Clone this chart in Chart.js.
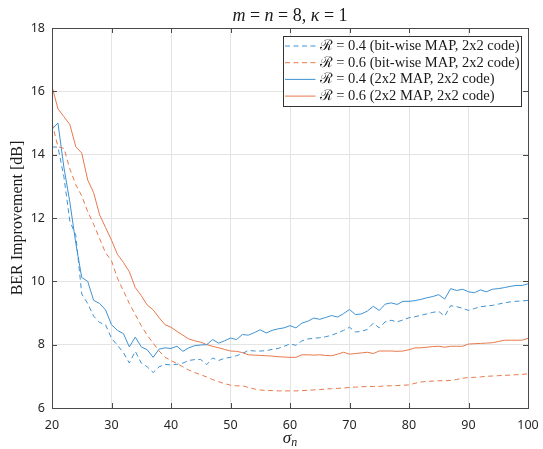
<!DOCTYPE html>
<html>
<head>
<meta charset="utf-8">
<title>BER improvement vs sigma_n</title>
<script src="https://cdn.jsdelivr.net/npm/chart.js@4.4.0/dist/chart.umd.min.js"></script>
<style>
  html, body { margin: 0; padding: 0; background: #fff; }
  #wrap { width: 543px; height: 449px; }
</style>
</head>
<body>
<div id="wrap"><canvas id="berChart" width="543" height="449"></canvas></div>
<script>
// noise level sigma_n (x axis)
const sigma = [20, 21, 22, 23, 24, 25, 26, 27, 28, 29, 30, 31, 32, 33, 34, 35, 36, 37, 38, 39,
  40, 41, 42, 43, 44, 45, 46, 47, 48, 49, 50, 51, 52, 53, 54, 55, 56, 57, 58, 59,
  60, 61, 62, 63, 64, 65, 66, 67, 68, 69, 70, 71, 72, 73, 74, 75, 76, 77, 78, 79,
  80, 81, 82, 83, 84, 85, 86, 87, 88, 89, 90, 91, 92, 93, 94, 95, 96, 97, 98, 99, 100];

// BER improvement [dB], R = 0.4, bit-wise MAP
const bitwise04 = [14.24, 14.24, 13.3, 11.9, 11.45, 9.6, 9.3, 8.9, 8.7, 8.63,
  8.2, 7.98, 7.75, 7.42, 7.79, 7.42, 7.3, 7.12, 7.3, 7.38,
  7.36, 7.38, 7.42, 7.5, 7.53, 7.53, 7.37, 7.58, 7.5, 7.57,
  7.6, 7.65, 7.72, 7.82, 7.8, 7.8, 7.81, 7.85, 7.88, 7.95,
  8.02, 7.98, 8.12, 8.18, 8.2, 8.22, 8.25, 8.3, 8.37, 8.45,
  8.55, 8.4, 8.42, 8.48, 8.68, 8.53, 8.72, 8.77, 8.72, 8.78,
  8.85, 8.88, 8.93, 8.97, 9.02, 9.05, 8.9, 9.23, 9.2, 9.15,
  9.08, 9.14, 9.2, 9.22, 9.24, 9.28, 9.32, 9.35, 9.37, 9.38, 9.4];

// R = 0.6, bit-wise MAP
const bitwise06 = [15.0, 14.25, 14.2, 13.55, 13.05, 12.7, 12.2, 11.8, 11.35, 10.9,
  10.65, 10.1, 9.7, 9.3, 8.95, 8.6, 8.3, 8.05, 7.8, 7.6,
  7.5, 7.4, 7.3, 7.2, 7.12, 7.05, 6.98, 6.9, 6.83, 6.77,
  6.72, 6.7, 6.7, 6.65, 6.6, 6.57, 6.55, 6.55, 6.54, 6.54,
  6.54, 6.54, 6.55, 6.56, 6.57, 6.58, 6.6, 6.61, 6.62, 6.63,
  6.65, 6.66, 6.67, 6.68, 6.68, 6.68, 6.7, 6.7, 6.71, 6.72,
  6.73, 6.78, 6.82, 6.84, 6.85, 6.86, 6.86, 6.87, 6.9, 6.94,
  6.96, 6.97, 6.98, 7.0, 7.01, 7.02, 7.03, 7.04, 7.05, 7.06, 7.08];

// R = 0.4, 2x2 MAP
const map04 = [14.8, 15.0, 13.6, 12.5, 11.2, 10.12, 10.0, 9.4, 9.3, 9.1,
  8.63, 8.45, 8.35, 7.93, 8.24, 7.93, 7.84, 7.6, 7.86, 7.9,
  7.88, 7.95, 7.79, 7.9, 7.97, 7.99, 8.0, 8.16, 8.05, 8.12,
  8.21, 8.16, 8.32, 8.3, 8.38, 8.47, 8.37, 8.45, 8.5, 8.53,
  8.6, 8.53, 8.68, 8.74, 8.84, 8.8, 8.86, 8.92, 8.87, 8.98,
  9.11, 8.95, 8.97, 9.06, 9.21, 9.08, 9.28, 9.32, 9.27, 9.37,
  9.37, 9.39, 9.43, 9.48, 9.52, 9.58, 9.44, 9.77, 9.71, 9.75,
  9.67, 9.64, 9.73, 9.67, 9.75, 9.77, 9.8, 9.84, 9.87, 9.87, 9.92];

// R = 0.6, 2x2 MAP
const map06 = [16.15, 15.45, 15.2, 14.95, 14.25, 14.05, 13.2, 12.8, 12.1, 11.7,
  11.3, 10.85, 10.6, 10.3, 9.8, 9.55, 9.25, 9.1, 8.85, 8.63,
  8.55, 8.42, 8.3, 8.18, 8.12, 8.08, 8.0, 7.95, 7.9, 7.85,
  7.8, 7.79, 7.75, 7.68, 7.67, 7.66, 7.65, 7.64, 7.62, 7.61,
  7.6, 7.6, 7.68, 7.68, 7.67, 7.68, 7.66, 7.65, 7.7, 7.76,
  7.7, 7.72, 7.74, 7.76, 7.72, 7.8, 7.8, 7.8, 7.79, 7.8,
  7.84, 7.9, 7.9, 7.92, 7.94, 7.95, 7.92, 7.95, 7.95, 7.95,
  8.02, 8.03, 8.04, 8.05, 8.06, 8.1, 8.14, 8.14, 8.14, 8.14, 8.2];

const xTicks = [20, 30, 40, 50, 60, 70, 80, 90, 100];
const yTicks = [6, 8, 10, 12, 14, 16, 18];

const seriesLabels = [
  'ℛ = 0.4 (bit-wise MAP, 2x2 code)',
  'ℛ = 0.6 (bit-wise MAP, 2x2 code)',
  'ℛ = 0.4 (2x2 MAP, 2x2 code)',
  'ℛ = 0.6 (2x2 MAP, 2x2 code)'
];

const BLUE = '#3f92d2';
const ORANGE = '#e6794c';
const DASH = [5, 3.5];
const SERIF = '"Liberation Serif", "DejaVu Serif", serif';
const AXIS = '#4a4a4a';

function toPoints(values) {
  return sigma.map((s, i) => ({ x: s, y: values[i] }));
}

function makeSet(label, values, color, dashed) {
  return {
    label: label,
    data: toPoints(values),
    borderColor: color,
    borderWidth: 1,
    borderDash: dashed ? DASH : [],
    pointRadius: 0,
    tension: 0,
    fill: false
  };
}

// draws a row of text pieces, some italic, centred on cx
function drawRuns(ctx, runs, cx, y, size) {
  let total = 0;
  runs.forEach(r => {
    ctx.font = (r.it ? 'italic ' : '') + (r.size || size) + 'px ' + SERIF;
    r.w = ctx.measureText(r.t).width;
    total += r.w;
  });
  let x = cx - total / 2;
  ctx.textAlign = 'left';
  ctx.textBaseline = 'alphabetic';
  runs.forEach(r => {
    ctx.font = (r.it ? 'italic ' : '') + (r.size || size) + 'px ' + SERIF;
    ctx.fillText(r.t, x, y + (r.dy || 0));
    x += r.w;
  });
}

const decorPlugin = {
  id: 'decor',
  afterDraw(chart) {
    const ctx = chart.ctx;
    const a = chart.chartArea;
    const xs = chart.scales.x;
    const ys = chart.scales.y;
    ctx.save();

    // axes box
    ctx.strokeStyle = AXIS;
    ctx.lineWidth = 1;
    ctx.setLineDash([]);
    ctx.strokeRect(Math.round(a.left) + 0.5, Math.round(a.top) + 0.5,
      Math.round(a.right - a.left), Math.round(a.bottom - a.top));

    // inward tick marks on all four sides
    ctx.beginPath();
    xTicks.forEach(v => {
      const px = Math.round(xs.getPixelForValue(v)) + 0.5;
      ctx.moveTo(px, a.bottom); ctx.lineTo(px, a.bottom - 5);
      ctx.moveTo(px, a.top); ctx.lineTo(px, a.top + 5);
    });
    yTicks.forEach(v => {
      const py = Math.round(ys.getPixelForValue(v)) + 0.5;
      ctx.moveTo(a.left, py); ctx.lineTo(a.left + 5, py);
      ctx.moveTo(a.right, py); ctx.lineTo(a.right - 5, py);
    });
    ctx.stroke();

    // legend box in the upper right corner
    const bx = 283.5, by = 36.5, bw = 238, bh = 70;
    ctx.fillStyle = '#ffffff';
    ctx.fillRect(bx, by, bw, bh);
    ctx.strokeStyle = '#333333';
    ctx.strokeRect(bx, by, bw, bh);
    ctx.font = '14.5px ' + SERIF;
    ctx.textBaseline = 'middle';
    ctx.textAlign = 'left';
    chart.data.datasets.forEach((ds, i) => {
      const ry = by + 9.5 + i * 16.7;
      ctx.strokeStyle = ds.borderColor;
      ctx.lineWidth = 1;
      ctx.setLineDash(ds.borderDash || []);
      ctx.beginPath();
      ctx.moveTo(bx + 1.5, ry);
      ctx.lineTo(bx + 32, ry);
      ctx.stroke();
      ctx.setLineDash([]);
      ctx.fillStyle = '#1a1a1a';
      ctx.fillText(ds.label, bx + 36, ry);
    });

    // title: m = n = 8, kappa = 1
    ctx.fillStyle = '#1a1a1a';
    drawRuns(ctx, [
      { t: 'm', it: true }, { t: ' = ' }, { t: 'n', it: true }, { t: ' = 8, ' },
      { t: 'κ', it: true }, { t: ' = 1' }
    ], (a.left + a.right) / 2, 21, 18);

    // x axis label: sigma_n
    drawRuns(ctx, [
      { t: 'σ', it: true }, { t: 'n', it: true, size: 12, dy: 3 }
    ], (a.left + a.right) / 2, 443, 17);

    ctx.restore();
  }
};

const tickFont = { family: '"Noto Sans", "DejaVu Sans", sans-serif', size: 12.5 };

new Chart(document.getElementById('berChart').getContext('2d'), {
  type: 'line',
  data: {
    datasets: [
      makeSet(seriesLabels[0], bitwise04, BLUE, true),
      makeSet(seriesLabels[1], bitwise06, ORANGE, true),
      makeSet(seriesLabels[2], map04, BLUE, false),
      makeSet(seriesLabels[3], map06, ORANGE, false)
    ]
  },
  options: {
    responsive: false,
    animation: false,
    devicePixelRatio: 1,
    layout: { padding: { top: 28, right: 15, left: 0, bottom: 0 } },
    plugins: {
      legend: { display: false },
      title: { display: false },
      tooltip: { enabled: false }
    },
    scales: {
      x: {
        type: 'linear',
        min: 20,
        max: 100,
        afterBuildTicks: s => { s.ticks = xTicks.map(v => ({ value: v })); },
        afterFit: s => { s.height = 41; s.paddingLeft = 0; s.paddingRight = 0; },
        grid: { color: '#e4e4e4', drawTicks: false },
        border: { display: false },
        ticks: { font: tickFont, color: '#262626', padding: 10, maxRotation: 0 }
      },
      y: {
        type: 'linear',
        min: 6,
        max: 18,
        afterBuildTicks: s => { s.ticks = yTicks.map(v => ({ value: v })); },
        afterFit: s => { s.width = 52; s.paddingTop = 0; s.paddingBottom = 0; },
        grid: { color: '#e4e4e4', drawTicks: false },
        border: { display: false },
        ticks: { font: tickFont, color: '#262626', padding: 7 },
        title: {
          display: true,
          text: 'BER Improvement [dB]',
          color: '#1a1a1a',
          font: { family: SERIF, size: 16 },
          padding: { top: 8, bottom: 0 }
        }
      }
    }
  },
  plugins: [decorPlugin]
});
</script>
</body>
</html>
